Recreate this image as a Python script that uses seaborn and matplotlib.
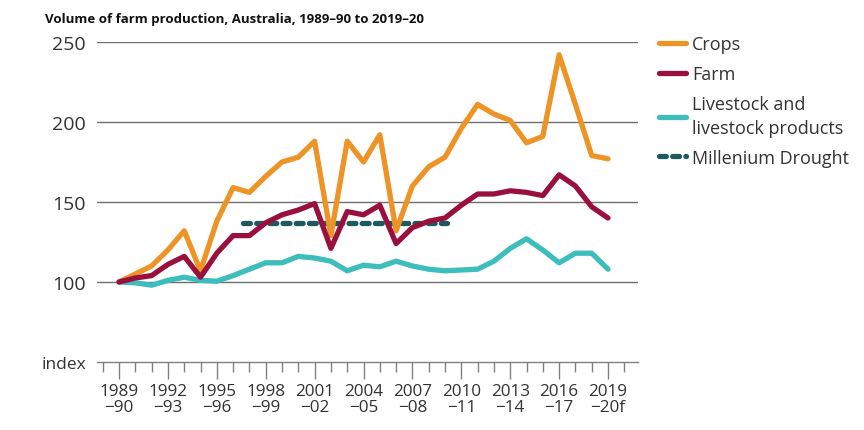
import matplotlib
matplotlib.use("Agg")
import matplotlib.pyplot as plt
import seaborn as sns
import pandas as pd
from matplotlib.lines import Line2D
from matplotlib.ticker import MultipleLocator

years = list(range(1989, 2020))
crops = [100, 105, 110, 120, 132, 107, 138, 159, 156, 166, 175, 178, 188, 129, 188, 175,
         192, 132, 160, 172, 178, 196, 211, 205, 201, 187, 191, 242, 211, 179, 177]
farm = [100, 102.5, 104, 111, 116, 103, 118, 129, 129, 137, 142, 145, 149, 121, 144, 142,
        148, 124, 134, 138, 140, 148, 155, 155, 157, 156, 154, 167, 160, 147, 140]
livestock = [100, 99.5, 98, 101, 103, 101, 100.5, 104, 108, 112, 112, 116, 115, 113, 107, 110.5,
             109.5, 113, 110, 108, 107, 107.5, 108, 113, 121, 127, 120, 112, 118, 118, 108]
drought_x = [1996.6, 2009.1]
drought_y = [137, 137]

major_years = list(range(1989, 2020, 3))
tick_labels = ["1989\n\u221290", "1992\n\u221293", "1995\n\u221296", "1998\n\u221299",
               "2001\n\u221202", "2004\n\u221205", "2007\n\u221208", "2010\n\u221211",
               "2013\n\u221214", "2016\n\u221217", "2019\n\u221220f"]
y_ticks = [50, 100, 150, 200, 250]
y_labels = ["index", "100", "150", "200", "250"]

c_crops = "#EE9326"
c_farm = "#99103D"
c_live = "#3DBDBB"
c_drought = "#1D5A60"

sns.set_theme(style="white")
plt.rcParams["font.family"] = ["Open Sans", "DejaVu Sans"]

fig = plt.figure(figsize=(8.64, 4.31), dpi=100)
ax = fig.add_axes([97/864, 1-363/431, (638-97)/864, (363-43)/431])

df = pd.DataFrame({"year": years, "Crops": crops, "Farm": farm, "Livestock": livestock})
lw = 3.8
sns.lineplot(data=df, x="year", y="Crops", color=c_crops, lw=lw, ax=ax, zorder=4)
sns.lineplot(data=df, x="year", y="Farm", color=c_farm, lw=lw, ax=ax, zorder=5)
sns.lineplot(data=df, x="year", y="Livestock", color=c_live, lw=lw, ax=ax, zorder=3)
ddf = pd.DataFrame({"x": drought_x, "y": drought_y})
sns.lineplot(data=ddf, x="x", y="y", color=c_drought, lw=lw, ax=ax, zorder=2,
             dashes=False, linestyle=(0, (1.3, 1.2)), dash_capstyle="round")

ax.set_xlim(1987.65, 2020.84)
ax.set_ylim(50, 250)
ax.set_xlabel("")
ax.set_ylabel("")
for s in ["top", "right", "left"]:
    ax.spines[s].set_visible(False)
ax.spines["bottom"].set_color("#808080")
ax.spines["bottom"].set_linewidth(1.0)

for v in [100, 150, 200, 250]:
    ax.axhline(v, color="#6f6f6f", lw=1.0, zorder=1)

ax.set_yticks(y_ticks)
ax.set_yticklabels(y_labels, fontsize=14, color="#333333")
ax.get_yticklabels()[0].set_fontsize(12.5)
ax.tick_params(axis="y", length=0, pad=8)
ax.set_xticks(major_years)
ax.set_xticklabels(tick_labels, fontsize=12.3, color="#333333", linespacing=1.0)
ax.xaxis.set_minor_locator(MultipleLocator(1))
ax.tick_params(axis="x", which="major", direction="out", length=12, width=1, color="#808080", pad=3, bottom=True)
ax.tick_params(axis="x", which="minor", direction="out", length=7, width=1, color="#808080", bottom=True)

fig.text(45/864, 1-20/431, "Volume of farm production, Australia, 1989\u201390 to 2019\u201320",
         fontsize=9.5, fontweight="bold", color="#111111", va="center", ha="left")

handles = [
    Line2D([], [], color=c_crops, lw=lw, solid_capstyle="round"),
    Line2D([], [], color=c_farm, lw=lw, solid_capstyle="round"),
    Line2D([], [], color=c_live, lw=lw, solid_capstyle="round"),
    Line2D([], [], color=c_drought, lw=lw, linestyle=(0, (1.3, 1.2)), dash_capstyle="round"),
]
labels = ["Crops", "Farm", "Livestock and\nlivestock products", "Millenium Drought"]
leg = fig.legend(handles, labels, loc="upper left", bbox_to_anchor=(643/864, 1-20/431),
                 frameon=False, fontsize=13, handlelength=1.5, handletextpad=0.3,
                 labelspacing=0.66, labelcolor="#333333")
for t in leg.get_texts():
    t.set_linespacing(1.4)

fig.savefig("out.png", dpi=100)
